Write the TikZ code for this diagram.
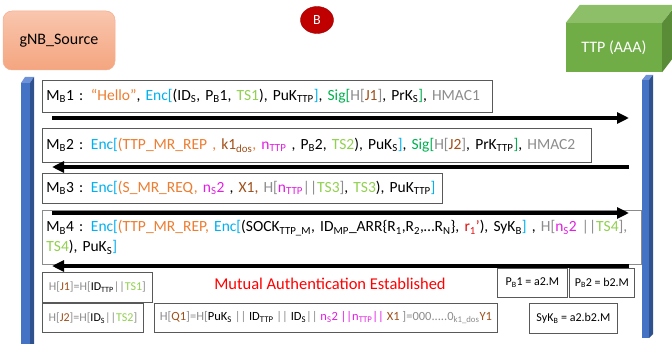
\documentclass[tikz,border=0pt]{standalone}
\usepackage{fontspec}
\setmainfont{Carlito}
\usetikzlibrary{arrows.meta,shapes.geometric}

\definecolor{cOrange}{HTML}{ED7D31}
\definecolor{cCyan}{HTML}{00B0F0}
\definecolor{cLGreen}{HTML}{92D050}
\definecolor{cGreen}{HTML}{00B050}
\definecolor{cGray}{HTML}{8C8C8C}
\definecolor{cBrown}{HTML}{A0501A}
\definecolor{cMag}{HTML}{E21EE2}
\definecolor{cRed}{HTML}{E01010}
\definecolor{cBorder}{HTML}{595959}
\definecolor{cBadge}{HTML}{C00000}
\definecolor{gFront}{HTML}{70AD47}
\definecolor{gTop}{HTML}{8DBF69}
\definecolor{gSide}{HTML}{5A8C38}
\definecolor{bFront}{HTML}{4472C4}
\definecolor{bTop}{HTML}{6E92D8}
\definecolor{bSide}{HTML}{2F528F}
\definecolor{sTop}{HTML}{F9C6AE}
\definecolor{sBot}{HTML}{F4A57F}

% coloured pieces of the message texts
\newcommand\tOr[1]{\textcolor{cOrange}{#1}}
\newcommand\tCy[1]{\textcolor{cCyan}{#1}}
\newcommand\tLg[1]{\textcolor{cLGreen}{#1}}
\newcommand\tGr[1]{\textcolor{cGreen}{#1}}
\newcommand\tGy[1]{\textcolor{cGray}{#1}}
\newcommand\tBr[1]{\textcolor{cBrown}{#1}}
\newcommand\tMg[1]{\textcolor{cMag}{#1}}
\newcommand\tRd[1]{\textcolor{cRed}{#1}}
\newcommand\sbs[1]{\textsubscript{#1}}

\begin{document}
\begin{tikzpicture}[x=1pt,y=-1pt,
  msgbox/.style={draw=cBorder, line width=0.8pt, fill=white, anchor=north west,
    inner xsep=4pt, inner ysep=0pt, align=left,
    font=\fontsize{15.5}{20}\selectfont},
  notebox/.style={draw=cBorder, line width=0.8pt, fill=white, anchor=north west,
    inner sep=0pt, align=center, font=\fontsize{12}{14}\selectfont},
  msgarrow/.style={line width=3.3pt, -{Triangle[length=12pt,width=11pt]}},
]
\useasboundingbox (0,0) rectangle (672,344);
\clip (0,0) rectangle (672,344);

% --- actor: source gNB
\node[rounded corners=9pt, top color=sTop, bottom color=sBot,
      draw=sBot!90!white, line width=0.5pt,
      minimum width=112pt, minimum height=59pt, font=\fontsize{16}{19}\selectfont]
  (src) at (59,40.5) {gNB\_Source};

% --- badge
\node[ellipse, fill=cBadge, draw=cBadge!80!black, line width=0.4pt, text=white,
      minimum width=33pt, minimum height=27pt, inner sep=0pt,
      font=\fontsize{14}{16}\selectfont] (badge) at (317,20) {B};

% --- actor: TTP as a cuboid
\node[fill=gFront, minimum width=96pt, minimum height=49pt, inner sep=0pt,
      text=white, font=\fontsize{16}{19}\selectfont] (ttp) at (614,47.5) {TTP (AAA)};
\fill[gTop] (ttp.north west) -- ++(14,-18) -- ++(96,0) -- (ttp.north east) -- cycle;
\fill[gSide] (ttp.north east) -- ++(14,-18) -- ++(0,49) -- (ttp.south east) -- cycle;

% --- lifelines (3D bars)
\fill[bFront] (21,83) rectangle (30,344);
\fill[bTop] (21,83) -- (25,77) -- (34,77) -- (30,83) -- cycle;
\fill[bSide] (30,83) -- (34,77) -- (34,344) -- (30,344) -- cycle;

\fill[bFront] (642,80) rectangle (649,338);
\fill[bTop] (642,80) -- (646,75) -- (653,75) -- (649,80) -- cycle;
\fill[bSide] (649,80) -- (653,75) -- (653,334) -- (649,338) -- cycle;

% --- messages
\node[msgbox, text width=442pt, minimum height=32pt] (m1) at (42,80)
  {M\sbs{B}1 : \tOr{“Hello”}, \tCy{Enc[}(ID\sbs{S}, P\sbs{B}1, \tLg{TS1}), PuK\sbs{TTP}\tCy{]}, \tGr{Sig[}\tGy{H[}\tBr{J1}\tGy{]}, PrK\sbs{S}\tGr{]}, \tGy{HMAC1}};

\node[msgbox, text width=541pt, minimum height=34pt] (m2) at (42,128)
  {M\sbs{B}2 : \tCy{Enc[}\tOr{(TTP\_MR\_REP , }\tBr{k1\sbs{dos}}\tOr{ , }\tMg{n\sbs{TTP}} , P\sbs{B}2, \tLg{TS2}), PuK\sbs{S}\tCy{]}, \tGr{Sig[}\tGy{H[}\tBr{J2}\tGy{]}, PrK\sbs{TTP}\tGr{]}, \tGy{HMAC2}};

\node[msgbox, text width=392pt, minimum height=30pt] (m3) at (42,173)
  {M\sbs{B}3 : \tCy{Enc[}\tOr{(S\_MR\_REQ,} \tMg{n\sbs{S}2} , \tBr{X1,} \tGy{H[}\tMg{n\sbs{TTP}}\tGy{||}\tLg{TS3}\tGy{]}, \tLg{TS3}), PuK\sbs{TTP}\tCy{]}};

\node[msgbox, draw=cBorder!70, text width=591pt, minimum height=54pt] (m4) at (42,210)
  {M\sbs{B}4 : \tCy{Enc[}\tOr{(TTP\_MR\_REP,} \tCy{Enc[}(SOCK\sbs{TTP\_M}, ID\sbs{MP}\_ARR\{R\sbs{1},R\sbs{2},…R\sbs{N}\}, \tRd{r\sbs{1}’}), SyK\sbs{B}\tCy{]} , \tGy{H[}\tMg{n\sbs{S}2} \tGy{||}\tLg{TS4}\tGy{],}\\
   \tLg{TS4}), PuK\sbs{S}\tCy{]}};

% --- arrow end points
\coordinate (a1s) at (52,118);  \coordinate (a1e) at (629,118);
\coordinate (a2s) at (629,167); \coordinate (a2e) at (52,167);
\coordinate (a3s) at (52,213);  \coordinate (a3e) at (629,213);
\coordinate (a4s) at (629,266); \coordinate (a4e) at (52,266);

\draw[msgarrow] (a1s) -- (a1e);
\draw[msgarrow] (a2s) -- (a2e);
\draw[msgarrow] (a3s) -- (a3e);
\draw[msgarrow] (a4s) -- (a4e);

% --- result and definitions
\node[text=red, font=\fontsize{16.5}{19}\selectfont] (mut) at (330,284)
  {Mutual Authentication Established};

\node[notebox, minimum width=110pt, minimum height=30pt] (hj1) at (42,272)
  {\tGy{H[}\tBr{J1}\tGy{]=H[}ID\sbs{TTP}\tGy{||}\tLg{TS1}\tGy{]}};
\node[notebox, minimum width=101pt, minimum height=29pt] (hj2) at (42,303)
  {\tGy{H[}\tBr{J2}\tGy{]=H[}ID\sbs{S}\tGy{||}\tLg{TS2}\tGy{]}};
\node[notebox, minimum width=343pt, minimum height=29pt, font=\fontsize{12.5}{14}\selectfont] (hq1) at (154,303)
  {\tGy{H[}\tBr{Q1}\tGy{]=H[}PuK\sbs{S} \tGy{||} ID\sbs{TTP} \tGy{||} ID\sbs{S}\tGy{||} \tMg{n\sbs{S}2 ||n\sbs{TTP}||} \tBr{X1} \tGy{]=000.....0\sbs{k1\_dos}}\tBr{Y1}};
\node[notebox, minimum width=70pt, minimum height=29pt] (pb1) at (497,268)
  {P\sbs{B}1 = a2.M};
\node[notebox, minimum width=65pt, minimum height=29pt] (pb2) at (569,268)
  {P\sbs{B}2 = b2.M};
\node[notebox, minimum width=88pt, minimum height=30pt] (syk) at (529,303)
  {SyK\sbs{B} = a2.b2.M};
\end{tikzpicture}
\end{document}
